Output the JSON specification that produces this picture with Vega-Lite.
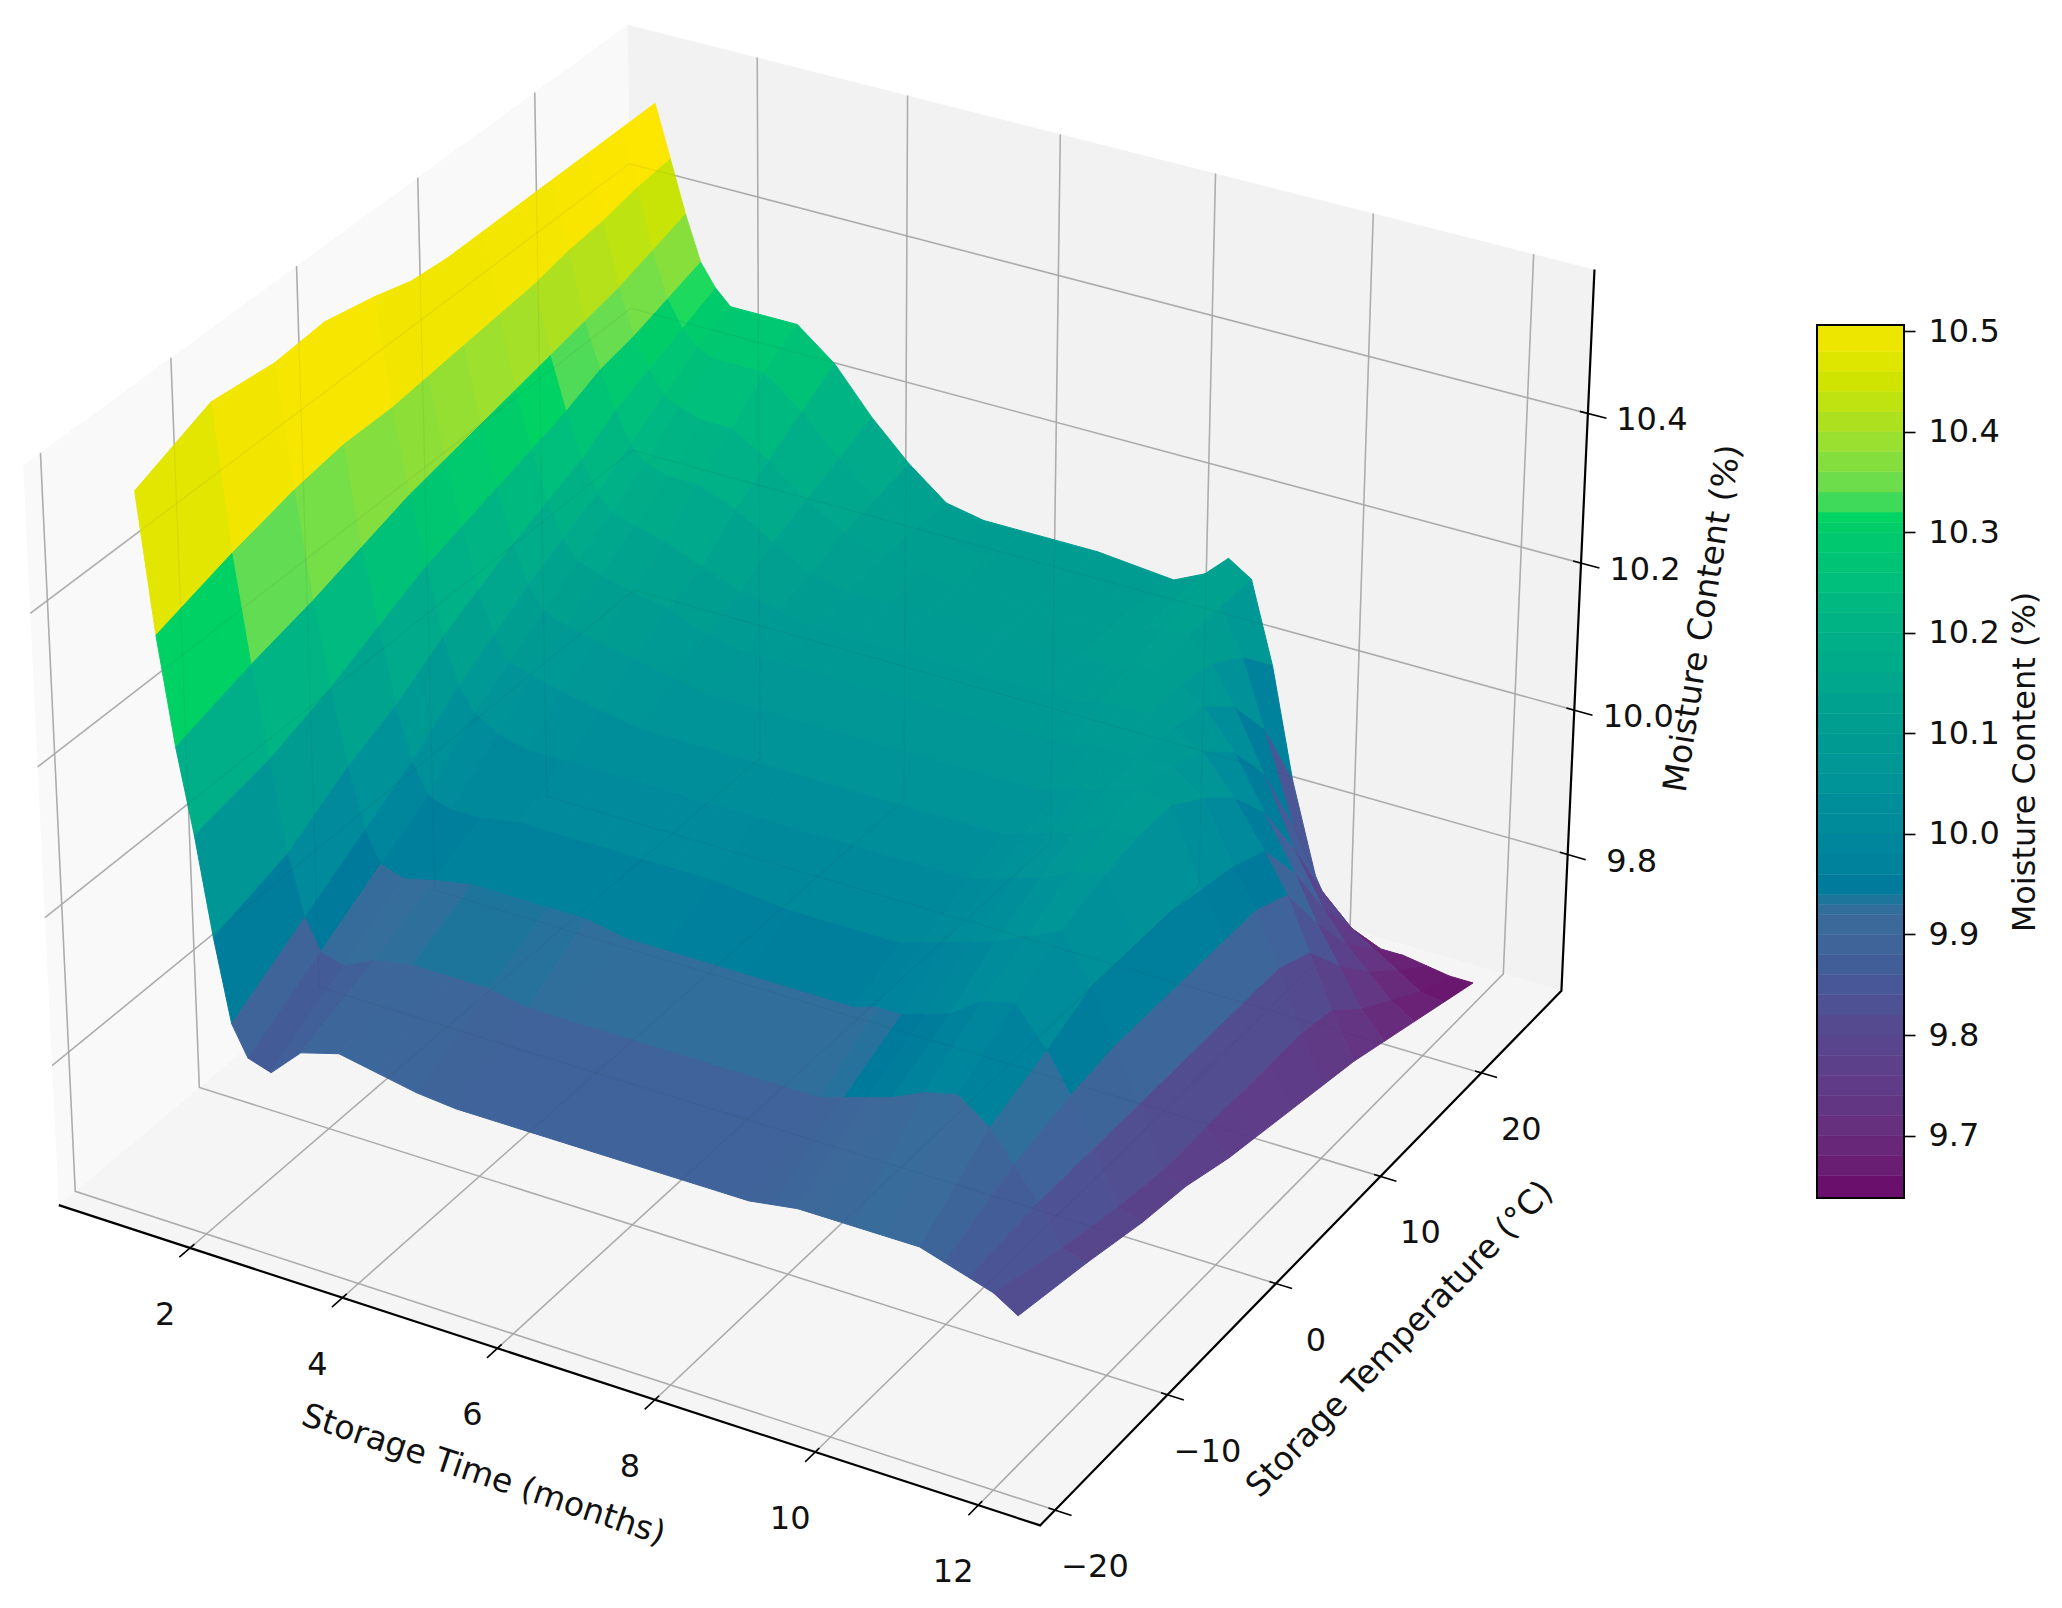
{"$schema":"https://vega.github.io/schema/vega-lite/v6.json","width":2062,"height":1608,"padding":0,"autosize":{"type":"none"},"background":"white","config":{"view":{"stroke":null},"font":"DejaVu Sans","text":{"font":"DejaVu Sans","fontSize":32,"baseline":"middle","align":"center","color":"#111"}},
"data":{"values":[
{"kind":"pl","time":0.25,"temp":-21.3,"moisture":9.608},{"kind":"pl","time":0.25,"temp":28.2,"moisture":9.608},{"kind":"pl","time":0.25,"temp":28.2,"moisture":10.589},{"kind":"pl","time":0.25,"temp":-21.3,"moisture":10.589},
{"kind":"pb","time":0.25,"temp":28.2,"moisture":9.608},{"kind":"pb","time":12.75,"temp":28.2,"moisture":9.608},{"kind":"pb","time":12.75,"temp":28.2,"moisture":10.589},{"kind":"pb","time":0.25,"temp":28.2,"moisture":10.589},
{"kind":"pf","time":0.25,"temp":-21.3,"moisture":9.608},{"kind":"pf","time":12.75,"temp":-21.3,"moisture":9.608},{"kind":"pf","time":12.75,"temp":28.2,"moisture":9.608},{"kind":"pf","time":0.25,"temp":28.2,"moisture":9.608},
{"kind":"grid","id":"t2","time":2,"temp":-21.3,"moisture":9.608},{"kind":"grid","id":"t2","time":2,"temp":28.2,"moisture":9.608},{"kind":"grid","id":"t2","time":2,"temp":28.2,"moisture":10.589},
{"kind":"grid","id":"t4","time":4,"temp":-21.3,"moisture":9.608},{"kind":"grid","id":"t4","time":4,"temp":28.2,"moisture":9.608},{"kind":"grid","id":"t4","time":4,"temp":28.2,"moisture":10.589},
{"kind":"grid","id":"t6","time":6,"temp":-21.3,"moisture":9.608},{"kind":"grid","id":"t6","time":6,"temp":28.2,"moisture":9.608},{"kind":"grid","id":"t6","time":6,"temp":28.2,"moisture":10.589},
{"kind":"grid","id":"t8","time":8,"temp":-21.3,"moisture":9.608},{"kind":"grid","id":"t8","time":8,"temp":28.2,"moisture":9.608},{"kind":"grid","id":"t8","time":8,"temp":28.2,"moisture":10.589},
{"kind":"grid","id":"t10","time":10,"temp":-21.3,"moisture":9.608},{"kind":"grid","id":"t10","time":10,"temp":28.2,"moisture":9.608},{"kind":"grid","id":"t10","time":10,"temp":28.2,"moisture":10.589},
{"kind":"grid","id":"t12","time":12,"temp":-21.3,"moisture":9.608},{"kind":"grid","id":"t12","time":12,"temp":28.2,"moisture":9.608},{"kind":"grid","id":"t12","time":12,"temp":28.2,"moisture":10.589},
{"kind":"grid","id":"T-20","time":12.75,"temp":-20,"moisture":9.608},{"kind":"grid","id":"T-20","time":0.25,"temp":-20,"moisture":9.608},{"kind":"grid","id":"T-20","time":0.25,"temp":-20,"moisture":10.589},
{"kind":"grid","id":"T-10","time":12.75,"temp":-10,"moisture":9.608},{"kind":"grid","id":"T-10","time":0.25,"temp":-10,"moisture":9.608},{"kind":"grid","id":"T-10","time":0.25,"temp":-10,"moisture":10.589},
{"kind":"grid","id":"T0","time":12.75,"temp":0,"moisture":9.608},{"kind":"grid","id":"T0","time":0.25,"temp":0,"moisture":9.608},{"kind":"grid","id":"T0","time":0.25,"temp":0,"moisture":10.589},
{"kind":"grid","id":"T10","time":12.75,"temp":10,"moisture":9.608},{"kind":"grid","id":"T10","time":0.25,"temp":10,"moisture":9.608},{"kind":"grid","id":"T10","time":0.25,"temp":10,"moisture":10.589},
{"kind":"grid","id":"T20","time":12.75,"temp":20,"moisture":9.608},{"kind":"grid","id":"T20","time":0.25,"temp":20,"moisture":9.608},{"kind":"grid","id":"T20","time":0.25,"temp":20,"moisture":10.589},
{"kind":"grid","id":"z9.8","time":0.25,"temp":-21.3,"moisture":9.8},{"kind":"grid","id":"z9.8","time":0.25,"temp":28.2,"moisture":9.8},{"kind":"grid","id":"z9.8","time":12.75,"temp":28.2,"moisture":9.8},
{"kind":"grid","id":"z10","time":0.25,"temp":-21.3,"moisture":10},{"kind":"grid","id":"z10","time":0.25,"temp":28.2,"moisture":10},{"kind":"grid","id":"z10","time":12.75,"temp":28.2,"moisture":10},
{"kind":"grid","id":"z10.2","time":0.25,"temp":-21.3,"moisture":10.2},{"kind":"grid","id":"z10.2","time":0.25,"temp":28.2,"moisture":10.2},{"kind":"grid","id":"z10.2","time":12.75,"temp":28.2,"moisture":10.2},
{"kind":"grid","id":"z10.4","time":0.25,"temp":-21.3,"moisture":10.4},{"kind":"grid","id":"z10.4","time":0.25,"temp":28.2,"moisture":10.4},{"kind":"grid","id":"z10.4","time":12.75,"temp":28.2,"moisture":10.4},
{"kind":"axis","time":0.25,"temp":-21.3,"moisture":9.608},{"kind":"axis","time":12.75,"temp":-21.3,"moisture":9.608},{"kind":"axis","time":12.75,"temp":28.2,"moisture":9.608},{"kind":"axis","time":12.75,"temp":28.2,"moisture":10.589},
{"kind":"tick","id":"a","time":2,"temp":-20.95,"moisture":9.608},{"kind":"tick","id":"a","time":2,"temp":-22.15,"moisture":9.608},
{"kind":"tick","id":"b","time":4,"temp":-20.95,"moisture":9.608},{"kind":"tick","id":"b","time":4,"temp":-22.15,"moisture":9.608},
{"kind":"tick","id":"c","time":6,"temp":-20.95,"moisture":9.608},{"kind":"tick","id":"c","time":6,"temp":-22.15,"moisture":9.608},
{"kind":"tick","id":"d","time":8,"temp":-20.95,"moisture":9.608},{"kind":"tick","id":"d","time":8,"temp":-22.15,"moisture":9.608},
{"kind":"tick","id":"e","time":10,"temp":-20.95,"moisture":9.608},{"kind":"tick","id":"e","time":10,"temp":-22.15,"moisture":9.608},
{"kind":"tick","id":"f","time":12,"temp":-20.95,"moisture":9.608},{"kind":"tick","id":"f","time":12,"temp":-22.15,"moisture":9.608},
{"kind":"tick","id":"g","time":12.67,"temp":-20,"moisture":9.608},{"kind":"tick","id":"g","time":12.95,"temp":-20,"moisture":9.608},
{"kind":"tick","id":"h","time":12.67,"temp":-10,"moisture":9.608},{"kind":"tick","id":"h","time":12.95,"temp":-10,"moisture":9.608},
{"kind":"tick","id":"i","time":12.67,"temp":0,"moisture":9.608},{"kind":"tick","id":"i","time":12.95,"temp":0,"moisture":9.608},
{"kind":"tick","id":"j","time":12.67,"temp":10,"moisture":9.608},{"kind":"tick","id":"j","time":12.95,"temp":10,"moisture":9.608},
{"kind":"tick","id":"k","time":12.67,"temp":20,"moisture":9.608},{"kind":"tick","id":"k","time":12.95,"temp":20,"moisture":9.608},
{"kind":"tick","id":"l","time":12.65,"temp":28.2,"moisture":9.8},{"kind":"tick","id":"l","time":12.98,"temp":28.2,"moisture":9.8},
{"kind":"tick","id":"m","time":12.65,"temp":28.2,"moisture":10},{"kind":"tick","id":"m","time":12.98,"temp":28.2,"moisture":10},
{"kind":"tick","id":"n","time":12.65,"temp":28.2,"moisture":10.2},{"kind":"tick","id":"n","time":12.98,"temp":28.2,"moisture":10.2},
{"kind":"tick","id":"o","time":12.65,"temp":28.2,"moisture":10.4},{"kind":"tick","id":"o","time":12.98,"temp":28.2,"moisture":10.4},
{"kind":"lt","time":2,"temp":-21.3,"moisture":9.608,"label":"2"},{"kind":"lt","time":4,"temp":-21.3,"moisture":9.608,"label":"4"},{"kind":"lt","time":6,"temp":-21.3,"moisture":9.608,"label":"6"},{"kind":"lt","time":8,"temp":-21.3,"moisture":9.608,"label":"8"},{"kind":"lt","time":10,"temp":-21.3,"moisture":9.608,"label":"10"},{"kind":"lt","time":12,"temp":-21.3,"moisture":9.608,"label":"12"},
{"kind":"lT","time":12.75,"temp":-20,"moisture":9.608,"label":"−20"},{"kind":"lT","time":12.75,"temp":-10,"moisture":9.608,"label":"−10"},{"kind":"lT","time":12.75,"temp":0,"moisture":9.608,"label":"0"},{"kind":"lT","time":12.75,"temp":10,"moisture":9.608,"label":"10"},{"kind":"lT","time":12.75,"temp":20,"moisture":9.608,"label":"20"},
{"kind":"lz","time":12.75,"temp":28.2,"moisture":9.8,"label":"9.8"},{"kind":"lz","time":12.75,"temp":28.2,"moisture":10,"label":"10.0"},{"kind":"lz","time":12.75,"temp":28.2,"moisture":10.2,"label":"10.2"},{"kind":"lz","time":12.75,"temp":28.2,"moisture":10.4,"label":"10.4"},
{"kind":"tt","time":6.5,"temp":-21.3,"moisture":9.608,"label":"Storage Time (months)"},{"kind":"tT","time":12.75,"temp":0,"moisture":9.608,"label":"Storage Temperature (°C)"},{"kind":"tz","time":12.75,"temp":28.2,"moisture":10.1,"label":"Moisture Content (%)"},
{"kind":"cbf","moisture":9.638,"top":10.506},
{"kind":"cb","moisture":9.638,"top":9.66},{"kind":"cb","moisture":9.66,"top":9.68},{"kind":"cb","moisture":9.68,"top":9.7},{"kind":"cb","moisture":9.7,"top":9.72},{"kind":"cb","moisture":9.72,"top":9.74},{"kind":"cb","moisture":9.74,"top":9.76},{"kind":"cb","moisture":9.76,"top":9.78},{"kind":"cb","moisture":9.78,"top":9.8},{"kind":"cb","moisture":9.8,"top":9.82},{"kind":"cb","moisture":9.82,"top":9.84},{"kind":"cb","moisture":9.84,"top":9.86},{"kind":"cb","moisture":9.86,"top":9.88},{"kind":"cb","moisture":9.88,"top":9.9},{"kind":"cb","moisture":9.9,"top":9.92},{"kind":"cb","moisture":9.92,"top":9.93},{"kind":"cb","moisture":9.93,"top":9.94},{"kind":"cb","moisture":9.94,"top":9.96},{"kind":"cb","moisture":9.96,"top":9.98},{"kind":"cb","moisture":9.98,"top":10},{"kind":"cb","moisture":10,"top":10.02},{"kind":"cb","moisture":10.02,"top":10.04},{"kind":"cb","moisture":10.04,"top":10.06},{"kind":"cb","moisture":10.06,"top":10.08},{"kind":"cb","moisture":10.08,"top":10.1},{"kind":"cb","moisture":10.1,"top":10.12},{"kind":"cb","moisture":10.12,"top":10.14},{"kind":"cb","moisture":10.14,"top":10.16},{"kind":"cb","moisture":10.16,"top":10.18},{"kind":"cb","moisture":10.18,"top":10.2},{"kind":"cb","moisture":10.2,"top":10.22},{"kind":"cb","moisture":10.22,"top":10.24},{"kind":"cb","moisture":10.24,"top":10.26},{"kind":"cb","moisture":10.26,"top":10.28},{"kind":"cb","moisture":10.28,"top":10.3},{"kind":"cb","moisture":10.3,"top":10.31},{"kind":"cb","moisture":10.31,"top":10.32},{"kind":"cb","moisture":10.32,"top":10.34},{"kind":"cb","moisture":10.34,"top":10.36},{"kind":"cb","moisture":10.36,"top":10.38},{"kind":"cb","moisture":10.38,"top":10.4},{"kind":"cb","moisture":10.4,"top":10.42},{"kind":"cb","moisture":10.42,"top":10.44},{"kind":"cb","moisture":10.44,"top":10.46},{"kind":"cb","moisture":10.46,"top":10.48},{"kind":"cb","moisture":10.48,"top":10.506},
{"time":1.1,"temp":25,"moisture":10.54},{"time":1.3,"temp":25,"moisture":10.47},{"time":1.5,"temp":25,"moisture":10.4},{"time":1.7,"temp":25,"moisture":10.34},{"time":1.9,"temp":25,"moisture":10.31},{"time":2.1,"temp":25,"moisture":10.29},{"time":2.3,"temp":25,"moisture":10.29},{"time":2.6,"temp":25,"moisture":10.29},{"time":3,"temp":25,"moisture":10.29},{"time":3.5,"temp":25,"moisture":10.25},{"time":4,"temp":25,"moisture":10.19},{"time":4.5,"temp":25,"moisture":10.14},{"time":5,"temp":25,"moisture":10.1},{"time":5.5,"temp":25,"moisture":10.09},{"time":6,"temp":25,"moisture":10.09},{"time":7,"temp":25,"moisture":10.09},{"time":8,"temp":25,"moisture":10.08},{"time":8.4,"temp":25,"moisture":10.1},{"time":8.7,"temp":25,"moisture":10.13},{"time":9,"temp":25,"moisture":10.11},{"time":9.3,"temp":25,"moisture":10},{"time":9.6,"temp":25,"moisture":9.85},{"time":10,"temp":25,"moisture":9.7},{"time":10.4,"temp":25,"moisture":9.66},{"time":10.8,"temp":25,"moisture":9.65},{"time":11.1,"temp":25,"moisture":9.65},{"time":11.4,"temp":25,"moisture":9.645},{"time":11.7,"temp":25,"moisture":9.64},{"time":12,"temp":25,"moisture":9.64},
{"time":1.1,"temp":22,"moisture":10.54},{"time":1.3,"temp":22,"moisture":10.465},{"time":1.5,"temp":22,"moisture":10.385},{"time":1.7,"temp":22,"moisture":10.325},{"time":1.9,"temp":22,"moisture":10.29},{"time":2.1,"temp":22,"moisture":10.27},{"time":2.3,"temp":22,"moisture":10.26},{"time":2.6,"temp":22,"moisture":10.26},{"time":3,"temp":22,"moisture":10.26},{"time":3.5,"temp":22,"moisture":10.22},{"time":4,"temp":22,"moisture":10.17},{"time":4.5,"temp":22,"moisture":10.13},{"time":5,"temp":22,"moisture":10.1},{"time":5.5,"temp":22,"moisture":10.095},{"time":6,"temp":22,"moisture":10.09},{"time":7,"temp":22,"moisture":10.09},{"time":8,"temp":22,"moisture":10.09},{"time":8.4,"temp":22,"moisture":10.1},{"time":8.7,"temp":22,"moisture":10.12},{"time":9,"temp":22,"moisture":10.11},{"time":9.3,"temp":22,"moisture":10.05},{"time":9.6,"temp":22,"moisture":9.96},{"time":10,"temp":22,"moisture":9.84},{"time":10.4,"temp":22,"moisture":9.76},{"time":10.8,"temp":22,"moisture":9.72},{"time":11.1,"temp":22,"moisture":9.7},{"time":11.4,"temp":22,"moisture":9.68},{"time":11.7,"temp":22,"moisture":9.66},{"time":12,"temp":22,"moisture":9.655},
{"time":1.1,"temp":19,"moisture":10.54},{"time":1.3,"temp":19,"moisture":10.455},{"time":1.5,"temp":19,"moisture":10.37},{"time":1.7,"temp":19,"moisture":10.31},{"time":1.9,"temp":19,"moisture":10.27},{"time":2.1,"temp":19,"moisture":10.24},{"time":2.3,"temp":19,"moisture":10.23},{"time":2.6,"temp":19,"moisture":10.22},{"time":3,"temp":19,"moisture":10.22},{"time":3.5,"temp":19,"moisture":10.19},{"time":4,"temp":19,"moisture":10.15},{"time":4.5,"temp":19,"moisture":10.12},{"time":5,"temp":19,"moisture":10.1},{"time":5.5,"temp":19,"moisture":10.095},{"time":6,"temp":19,"moisture":10.09},{"time":7,"temp":19,"moisture":10.09},{"time":8,"temp":19,"moisture":10.09},{"time":8.4,"temp":19,"moisture":10.1},{"time":8.7,"temp":19,"moisture":10.11},{"time":9,"temp":19,"moisture":10.11},{"time":9.3,"temp":19,"moisture":10.08},{"time":9.6,"temp":19,"moisture":10.03},{"time":10,"temp":19,"moisture":9.95},{"time":10.4,"temp":19,"moisture":9.86},{"time":10.8,"temp":19,"moisture":9.79},{"time":11.1,"temp":19,"moisture":9.75},{"time":11.4,"temp":19,"moisture":9.72},{"time":11.7,"temp":19,"moisture":9.69},{"time":12,"temp":19,"moisture":9.67},
{"time":1.1,"temp":16,"moisture":10.54},{"time":1.3,"temp":16,"moisture":10.45},{"time":1.5,"temp":16,"moisture":10.36},{"time":1.7,"temp":16,"moisture":10.3},{"time":1.9,"temp":16,"moisture":10.25},{"time":2.1,"temp":16,"moisture":10.21},{"time":2.3,"temp":16,"moisture":10.19},{"time":2.6,"temp":16,"moisture":10.18},{"time":3,"temp":16,"moisture":10.18},{"time":3.5,"temp":16,"moisture":10.16},{"time":4,"temp":16,"moisture":10.13},{"time":4.5,"temp":16,"moisture":10.1},{"time":5,"temp":16,"moisture":10.09},{"time":5.5,"temp":16,"moisture":10.09},{"time":6,"temp":16,"moisture":10.09},{"time":7,"temp":16,"moisture":10.09},{"time":8,"temp":16,"moisture":10.09},{"time":8.4,"temp":16,"moisture":10.09},{"time":8.7,"temp":16,"moisture":10.1},{"time":9,"temp":16,"moisture":10.1},{"time":9.3,"temp":16,"moisture":10.09},{"time":9.6,"temp":16,"moisture":10.07},{"time":10,"temp":16,"moisture":10.02},{"time":10.4,"temp":16,"moisture":9.95},{"time":10.8,"temp":16,"moisture":9.88},{"time":11.1,"temp":16,"moisture":9.82},{"time":11.4,"temp":16,"moisture":9.77},{"time":11.7,"temp":16,"moisture":9.72},{"time":12,"temp":16,"moisture":9.685},
{"time":1.1,"temp":13,"moisture":10.54},{"time":1.3,"temp":13,"moisture":10.44},{"time":1.5,"temp":13,"moisture":10.35},{"time":1.7,"temp":13,"moisture":10.28},{"time":1.9,"temp":13,"moisture":10.22},{"time":2.1,"temp":13,"moisture":10.18},{"time":2.3,"temp":13,"moisture":10.16},{"time":2.6,"temp":13,"moisture":10.15},{"time":3,"temp":13,"moisture":10.14},{"time":3.5,"temp":13,"moisture":10.12},{"time":4,"temp":13,"moisture":10.1},{"time":4.5,"temp":13,"moisture":10.09},{"time":5,"temp":13,"moisture":10.08},{"time":5.5,"temp":13,"moisture":10.08},{"time":6,"temp":13,"moisture":10.08},{"time":7,"temp":13,"moisture":10.08},{"time":8,"temp":13,"moisture":10.08},{"time":8.4,"temp":13,"moisture":10.08},{"time":8.7,"temp":13,"moisture":10.09},{"time":9,"temp":13,"moisture":10.09},{"time":9.3,"temp":13,"moisture":10.09},{"time":9.6,"temp":13,"moisture":10.08},{"time":10,"temp":13,"moisture":10.06},{"time":10.4,"temp":13,"moisture":10.01},{"time":10.8,"temp":13,"moisture":9.95},{"time":11.1,"temp":13,"moisture":9.9},{"time":11.4,"temp":13,"moisture":9.83},{"time":11.7,"temp":13,"moisture":9.76},{"time":12,"temp":13,"moisture":9.7},
{"time":1.1,"temp":10,"moisture":10.54},{"time":1.3,"temp":10,"moisture":10.435},{"time":1.5,"temp":10,"moisture":10.34},{"time":1.7,"temp":10,"moisture":10.265},{"time":1.9,"temp":10,"moisture":10.2},{"time":2.1,"temp":10,"moisture":10.155},{"time":2.3,"temp":10,"moisture":10.13},{"time":2.6,"temp":10,"moisture":10.12},{"time":3,"temp":10,"moisture":10.11},{"time":3.5,"temp":10,"moisture":10.1},{"time":4,"temp":10,"moisture":10.08},{"time":4.5,"temp":10,"moisture":10.07},{"time":5,"temp":10,"moisture":10.07},{"time":5.5,"temp":10,"moisture":10.07},{"time":6,"temp":10,"moisture":10.07},{"time":7,"temp":10,"moisture":10.07},{"time":8,"temp":10,"moisture":10.07},{"time":8.4,"temp":10,"moisture":10.07},{"time":8.7,"temp":10,"moisture":10.07},{"time":9,"temp":10,"moisture":10.08},{"time":9.3,"temp":10,"moisture":10.08},{"time":9.6,"temp":10,"moisture":10.08},{"time":10,"temp":10,"moisture":10.08},{"time":10.4,"temp":10,"moisture":10.05},{"time":10.8,"temp":10,"moisture":9.97},{"time":11.1,"temp":10,"moisture":9.92},{"time":11.4,"temp":10,"moisture":9.85},{"time":11.7,"temp":10,"moisture":9.77},{"time":12,"temp":10,"moisture":9.71},
{"time":1.1,"temp":7,"moisture":10.54},{"time":1.3,"temp":7,"moisture":10.43},{"time":1.5,"temp":7,"moisture":10.33},{"time":1.7,"temp":7,"moisture":10.25},{"time":1.9,"temp":7,"moisture":10.18},{"time":2.1,"temp":7,"moisture":10.13},{"time":2.3,"temp":7,"moisture":10.1},{"time":2.6,"temp":7,"moisture":10.09},{"time":3,"temp":7,"moisture":10.08},{"time":3.5,"temp":7,"moisture":10.07},{"time":4,"temp":7,"moisture":10.06},{"time":4.5,"temp":7,"moisture":10.05},{"time":5,"temp":7,"moisture":10.05},{"time":5.5,"temp":7,"moisture":10.05},{"time":6,"temp":7,"moisture":10.05},{"time":7,"temp":7,"moisture":10.05},{"time":8,"temp":7,"moisture":10.05},{"time":8.4,"temp":7,"moisture":10.05},{"time":8.7,"temp":7,"moisture":10.05},{"time":9,"temp":7,"moisture":10.06},{"time":9.3,"temp":7,"moisture":10.07},{"time":9.6,"temp":7,"moisture":10.08},{"time":10,"temp":7,"moisture":10.09},{"time":10.4,"temp":7,"moisture":10.08},{"time":10.8,"temp":7,"moisture":9.98},{"time":11.1,"temp":7,"moisture":9.92},{"time":11.4,"temp":7,"moisture":9.85},{"time":11.7,"temp":7,"moisture":9.77},{"time":12,"temp":7,"moisture":9.72},
{"time":1.1,"temp":4,"moisture":10.545},{"time":1.3,"temp":4,"moisture":10.425},{"time":1.5,"temp":4,"moisture":10.32},{"time":1.7,"temp":4,"moisture":10.235},{"time":1.9,"temp":4,"moisture":10.155},{"time":2.1,"temp":4,"moisture":10.1},{"time":2.3,"temp":4,"moisture":10.07},{"time":2.6,"temp":4,"moisture":10.06},{"time":3,"temp":4,"moisture":10.05},{"time":3.5,"temp":4,"moisture":10.04},{"time":4,"temp":4,"moisture":10.03},{"time":4.5,"temp":4,"moisture":10.03},{"time":5,"temp":4,"moisture":10.03},{"time":5.5,"temp":4,"moisture":10.03},{"time":6,"temp":4,"moisture":10.03},{"time":7,"temp":4,"moisture":10.03},{"time":8,"temp":4,"moisture":10.03},{"time":8.4,"temp":4,"moisture":10.03},{"time":8.7,"temp":4,"moisture":10.03},{"time":9,"temp":4,"moisture":10.04},{"time":9.3,"temp":4,"moisture":10.05},{"time":9.6,"temp":4,"moisture":10.06},{"time":10,"temp":4,"moisture":10.08},{"time":10.4,"temp":4,"moisture":10.08},{"time":10.8,"temp":4,"moisture":9.99},{"time":11.1,"temp":4,"moisture":9.92},{"time":11.4,"temp":4,"moisture":9.85},{"time":11.7,"temp":4,"moisture":9.77},{"time":12,"temp":4,"moisture":9.73},
{"time":1.1,"temp":1,"moisture":10.56},{"time":1.3,"temp":1,"moisture":10.42},{"time":1.5,"temp":1,"moisture":10.31},{"time":1.7,"temp":1,"moisture":10.22},{"time":1.9,"temp":1,"moisture":10.13},{"time":2.1,"temp":1,"moisture":10.07},{"time":2.3,"temp":1,"moisture":10.04},{"time":2.6,"temp":1,"moisture":10.02},{"time":3,"temp":1,"moisture":10.01},{"time":3.5,"temp":1,"moisture":10.01},{"time":4,"temp":1,"moisture":10.01},{"time":4.5,"temp":1,"moisture":10.01},{"time":5,"temp":1,"moisture":10.01},{"time":5.5,"temp":1,"moisture":10.01},{"time":6,"temp":1,"moisture":10.01},{"time":7,"temp":1,"moisture":10.01},{"time":8,"temp":1,"moisture":10.01},{"time":8.4,"temp":1,"moisture":10.01},{"time":8.7,"temp":1,"moisture":10.01},{"time":9,"temp":1,"moisture":10.02},{"time":9.3,"temp":1,"moisture":10.03},{"time":9.6,"temp":1,"moisture":10.04},{"time":10,"temp":1,"moisture":10.06},{"time":10.4,"temp":1,"moisture":10.07},{"time":10.8,"temp":1,"moisture":9.99},{"time":11.1,"temp":1,"moisture":9.92},{"time":11.4,"temp":1,"moisture":9.85},{"time":11.7,"temp":1,"moisture":9.77},{"time":12,"temp":1,"moisture":9.74},
{"time":1.1,"temp":-3,"moisture":10.575},{"time":1.3,"temp":-3,"moisture":10.42},{"time":1.5,"temp":-3,"moisture":10.29},{"time":1.7,"temp":-3,"moisture":10.19},{"time":1.9,"temp":-3,"moisture":10.09},{"time":2.1,"temp":-3,"moisture":10.02},{"time":2.3,"temp":-3,"moisture":9.98},{"time":2.6,"temp":-3,"moisture":9.97},{"time":3,"temp":-3,"moisture":9.97},{"time":3.5,"temp":-3,"moisture":9.98},{"time":4,"temp":-3,"moisture":9.98},{"time":4.5,"temp":-3,"moisture":9.98},{"time":5,"temp":-3,"moisture":9.98},{"time":5.5,"temp":-3,"moisture":9.98},{"time":6,"temp":-3,"moisture":9.98},{"time":7,"temp":-3,"moisture":9.97},{"time":8,"temp":-3,"moisture":9.97},{"time":8.4,"temp":-3,"moisture":9.97},{"time":8.7,"temp":-3,"moisture":9.98},{"time":9,"temp":-3,"moisture":9.99},{"time":9.3,"temp":-3,"moisture":10},{"time":9.6,"temp":-3,"moisture":10.01},{"time":10,"temp":-3,"moisture":10.03},{"time":10.4,"temp":-3,"moisture":10.05},{"time":10.8,"temp":-3,"moisture":9.99},{"time":11.1,"temp":-3,"moisture":9.92},{"time":11.4,"temp":-3,"moisture":9.85},{"time":11.7,"temp":-3,"moisture":9.77},{"time":12,"temp":-3,"moisture":9.76},
{"time":1.1,"temp":-7,"moisture":10.57},{"time":1.3,"temp":-7,"moisture":10.41},{"time":1.5,"temp":-7,"moisture":10.27},{"time":1.7,"temp":-7,"moisture":10.16},{"time":1.9,"temp":-7,"moisture":10.06},{"time":2.1,"temp":-7,"moisture":9.98},{"time":2.3,"temp":-7,"moisture":9.94},{"time":2.6,"temp":-7,"moisture":9.93},{"time":3,"temp":-7,"moisture":9.94},{"time":3.5,"temp":-7,"moisture":9.95},{"time":4,"temp":-7,"moisture":9.95},{"time":4.5,"temp":-7,"moisture":9.95},{"time":5,"temp":-7,"moisture":9.95},{"time":5.5,"temp":-7,"moisture":9.94},{"time":6,"temp":-7,"moisture":9.94},{"time":7,"temp":-7,"moisture":9.94},{"time":8,"temp":-7,"moisture":9.94},{"time":8.4,"temp":-7,"moisture":9.94},{"time":8.7,"temp":-7,"moisture":9.95},{"time":9,"temp":-7,"moisture":9.95},{"time":9.3,"temp":-7,"moisture":9.96},{"time":9.6,"temp":-7,"moisture":9.97},{"time":10,"temp":-7,"moisture":10},{"time":10.4,"temp":-7,"moisture":10.01},{"time":10.8,"temp":-7,"moisture":9.96},{"time":11.1,"temp":-7,"moisture":9.91},{"time":11.4,"temp":-7,"moisture":9.85},{"time":11.7,"temp":-7,"moisture":9.78},{"time":12,"temp":-7,"moisture":9.77},
{"time":1.1,"temp":-12,"moisture":10.58},{"time":1.3,"temp":-12,"moisture":10.39},{"time":1.5,"temp":-12,"moisture":10.25},{"time":1.7,"temp":-12,"moisture":10.13},{"time":1.9,"temp":-12,"moisture":10.01},{"time":2.1,"temp":-12,"moisture":9.93},{"time":2.3,"temp":-12,"moisture":9.89},{"time":2.6,"temp":-12,"moisture":9.88},{"time":3,"temp":-12,"moisture":9.9},{"time":3.5,"temp":-12,"moisture":9.91},{"time":4,"temp":-12,"moisture":9.91},{"time":4.5,"temp":-12,"moisture":9.91},{"time":5,"temp":-12,"moisture":9.9},{"time":5.5,"temp":-12,"moisture":9.9},{"time":6,"temp":-12,"moisture":9.9},{"time":7,"temp":-12,"moisture":9.9},{"time":8,"temp":-12,"moisture":9.9},{"time":8.4,"temp":-12,"moisture":9.9},{"time":8.7,"temp":-12,"moisture":9.9},{"time":9,"temp":-12,"moisture":9.91},{"time":9.3,"temp":-12,"moisture":9.92},{"time":9.6,"temp":-12,"moisture":9.93},{"time":10,"temp":-12,"moisture":9.95},{"time":10.4,"temp":-12,"moisture":9.96},{"time":10.8,"temp":-12,"moisture":9.93},{"time":11.1,"temp":-12,"moisture":9.89},{"time":11.4,"temp":-12,"moisture":9.85},{"time":11.7,"temp":-12,"moisture":9.8},{"time":12,"temp":-12,"moisture":9.79},
{"time":1.1,"temp":-18,"moisture":10.54},{"time":1.3,"temp":-18,"moisture":10.36},{"time":1.5,"temp":-18,"moisture":10.22},{"time":1.7,"temp":-18,"moisture":10.11},{"time":1.9,"temp":-18,"moisture":9.98},{"time":2.1,"temp":-18,"moisture":9.87},{"time":2.3,"temp":-18,"moisture":9.83},{"time":2.6,"temp":-18,"moisture":9.82},{"time":3,"temp":-18,"moisture":9.86},{"time":3.5,"temp":-18,"moisture":9.875},{"time":4,"temp":-18,"moisture":9.865},{"time":4.5,"temp":-18,"moisture":9.855},{"time":5,"temp":-18,"moisture":9.85},{"time":5.5,"temp":-18,"moisture":9.85},{"time":6,"temp":-18,"moisture":9.85},{"time":7,"temp":-18,"moisture":9.85},{"time":8,"temp":-18,"moisture":9.85},{"time":8.4,"temp":-18,"moisture":9.85},{"time":8.7,"temp":-18,"moisture":9.85},{"time":9,"temp":-18,"moisture":9.855},{"time":9.3,"temp":-18,"moisture":9.86},{"time":9.6,"temp":-18,"moisture":9.86},{"time":10,"temp":-18,"moisture":9.86},{"time":10.4,"temp":-18,"moisture":9.86},{"time":10.8,"temp":-18,"moisture":9.86},{"time":11.1,"temp":-18,"moisture":9.85},{"time":11.4,"temp":-18,"moisture":9.84},{"time":11.7,"temp":-18,"moisture":9.83},{"time":12,"temp":-18,"moisture":9.81}
]},
"transform":[
{"calculate":"((datum.time-0.25)/12.5-0.5)*1.19","as":"u"},
{"calculate":"((datum.temp+21.3)/49.5-0.5)*1.19","as":"v"},
{"calculate":"((datum.moisture-9.608)/0.981-0.5)*0.893","as":"q"},
{"calculate":"10-(0.4330127*datum.u-0.75*datum.v+0.5*datum.q)","as":"d"},
{"calculate":"(0.8660254*datum.u+0.5*datum.v)/datum.d","as":"sx"},
{"calculate":"(-0.25*datum.u+0.4330127*datum.v+0.8660254*datum.q)/datum.d","as":"sy"}
],
"resolve":{"scale":{"x":"independent","y":"independent"}},
"layer":[
{"encoding":{"x":{"field":"sx","type":"quantitative","scale":{"domain":[-0.08722,0.13105],"nice":false,"zero":false},"axis":null},"y":{"field":"sy","type":"quantitative","scale":{"domain":[-0.09206,0.07828],"nice":false,"zero":false},"axis":null}},
"layer":[
{"transform":[{"filter":"datum.kind=='pl'"}],"mark":{"type":"line","interpolate":"linear-closed","fill":"#f9f9f9","strokeOpacity":0},"encoding":{"order":{"value":null}}},
{"transform":[{"filter":"datum.kind=='pb'"}],"mark":{"type":"line","interpolate":"linear-closed","fill":"#f2f2f2","strokeOpacity":0},"encoding":{"order":{"value":null}}},
{"transform":[{"filter":"datum.kind=='pf'"}],"mark":{"type":"line","interpolate":"linear-closed","fill":"#f5f5f5","strokeOpacity":0},"encoding":{"order":{"value":null}}},
{"transform":[{"filter":"datum.kind=='grid'"}],"mark":{"type":"line","color":"#b5b5b5","strokeWidth":1.6},"encoding":{"detail":{"field":"id"},"order":{"value":null}}},
{"transform":[{"filter":"datum.kind=='axis'"}],"mark":{"type":"line","color":"#000","strokeWidth":2.2},"encoding":{"order":{"value":null}}},
{"transform":[{"filter":"datum.kind=='tick'"}],"mark":{"type":"line","color":"#000","strokeWidth":1.6},"encoding":{"detail":{"field":"id"},"order":{"value":null}}},
{"transform":[{"filter":"!datum.kind"},{"window":[{"op":"dense_rank","as":"i"}],"sort":[{"field":"time"}]},{"window":[{"op":"dense_rank","as":"j"}],"sort":[{"field":"temp"}]},{"calculate":"[0,1,2,3]","as":"k"},{"flatten":["k"]},{"calculate":"(datum.i-(datum.k==1||datum.k==2?1:0))*100+datum.j-(datum.k==2||datum.k==3?1:0)","as":"quad"},{"joinaggregate":[{"op":"count","as":"n"},{"op":"mean","field":"moisture","as":"cell"}],"groupby":["quad"]},{"filter":"datum.n==4"}],
"mark":{"type":"line","interpolate":"linear-closed","strokeWidth":1},
"encoding":{"detail":{"field":"quad"},"order":{"field":"k"},
"fill":{"field":"cell","type":"quantitative","legend":null,"scale":{"domain":[9.638,9.7,9.8,9.9,9.925,9.935,10,10.1,10.2,10.3,10.315,10.325,10.4,10.435,10.506],"range":["#6a0f6b","#67307f","#55498f","#3b6a9a","#2f6f9b","#007a9b","#008b9b","#009e90","#00b384","#00cd68","#00d85f","#5cdc55","#ade01f","#cbe500","#ffe600"],"clamp":true}},
"stroke":{"field":"cell","type":"quantitative","legend":null,"scale":{"domain":[9.638,9.7,9.8,9.9,9.925,9.935,10,10.1,10.2,10.3,10.315,10.325,10.4,10.435,10.506],"range":["#6a0f6b","#67307f","#55498f","#3b6a9a","#2f6f9b","#007a9b","#008b9b","#009e90","#00b384","#00cd68","#00d85f","#5cdc55","#ade01f","#cbe500","#ffe600"],"clamp":true}}}},
{"transform":[{"filter":"datum.kind=='grid'"}],"mark":{"type":"line","color":"#333","strokeWidth":1.2,"opacity":0.07},"encoding":{"detail":{"field":"id"},"order":{"value":null}}},
{"transform":[{"filter":"datum.kind=='lt'"}],"mark":{"type":"text","dx":-25,"dy":67},"encoding":{"text":{"field":"label"}}},
{"transform":[{"filter":"datum.kind=='lT'"}],"mark":{"type":"text","dx":40,"dy":57},"encoding":{"text":{"field":"label"}}},
{"transform":[{"filter":"datum.kind=='lz'"}],"mark":{"type":"text","dx":64,"dy":7},"encoding":{"text":{"field":"label"}}},
{"transform":[{"filter":"datum.kind=='tt'"}],"mark":{"type":"text","angle":18.5,"fontSize":33,"dx":-14,"dy":125},"encoding":{"text":{"field":"label"}}},
{"transform":[{"filter":"datum.kind=='tT'"}],"mark":{"type":"text","angle":314,"fontSize":33,"dx":46,"dy":128},"encoding":{"text":{"field":"label"}}},
{"transform":[{"filter":"datum.kind=='tz'"}],"mark":{"type":"text","angle":279,"fontSize":33,"dx":38,"dy":121},"encoding":{"text":{"field":"label"}}}
]},
{"encoding":{"x":{"datum":0,"scale":{"domain":[0,1],"range":[1817,1904],"nice":false,"zero":false},"axis":null},"x2":{"datum":1},
"y":{"field":"moisture","type":"quantitative","scale":{"domain":[9.638,10.506],"range":[1198,325],"nice":false,"zero":false},
"axis":{"orient":"right","offset":-158,"values":[9.7,9.8,9.9,10,10.1,10.2,10.3,10.4,10.5],"format":".1f","grid":false,"domain":false,"tickColor":"#000","tickSize":11,"tickWidth":1.6,"labelFont":"DejaVu Sans","labelFontSize":32,"labelColor":"#111","labelPadding":13,"title":"Moisture Content (%)","titleFont":"DejaVu Sans","titleFontSize":32,"titleFontWeight":"normal","titleColor":"#111","titleAngle":270,"titlePadding":42}},"y2":{"field":"top"}},
"layer":[
{"transform":[{"filter":"datum.kind=='cb'"}],"mark":{"type":"rect","strokeWidth":0.5},
"encoding":{"fill":{"field":"moisture","type":"quantitative","legend":null},"stroke":{"field":"moisture","type":"quantitative","legend":null,"scale":{"domain":[9.638,9.7,9.8,9.9,9.925,9.935,10,10.1,10.2,10.3,10.315,10.325,10.4,10.435,10.506],"range":["#6a0f6b","#67307f","#55498f","#3b6a9a","#2f6f9b","#007a9b","#008b9b","#009e90","#00b384","#00cd68","#00d85f","#5cdc55","#ade01f","#cbe500","#ffe600"],"clamp":true}}}},
{"transform":[{"filter":"datum.kind=='cbf'"}],"mark":{"type":"rect","filled":false,"stroke":"#000","strokeWidth":2}}
]}
]}
